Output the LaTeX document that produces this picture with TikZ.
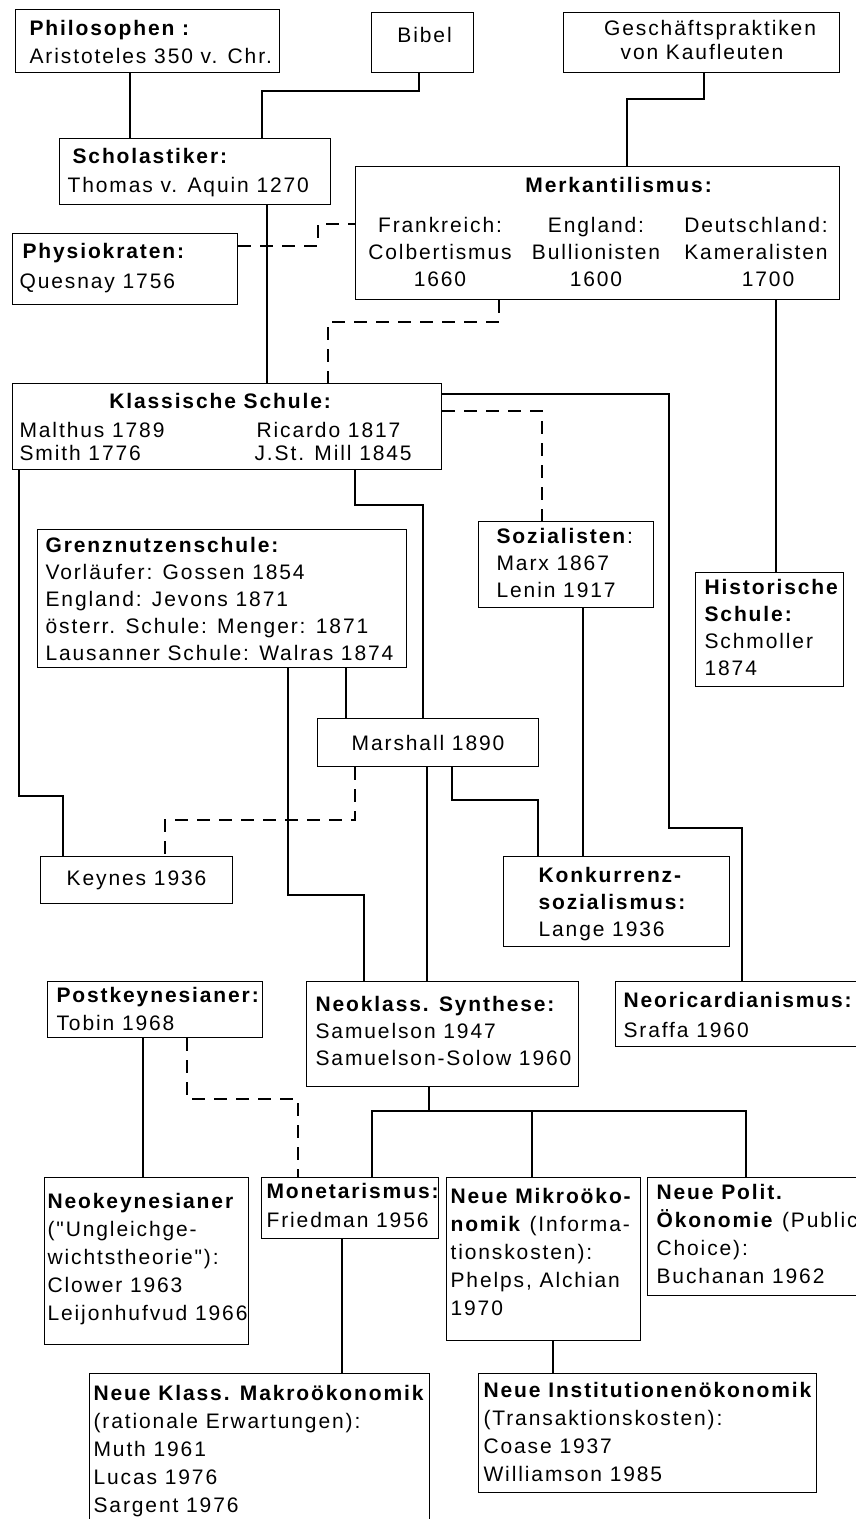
\documentclass[tikz,border=0pt]{standalone}
\usepackage{fontspec}
\setmainfont{Liberation Sans}[LetterSpace=9,Ligatures=TeXOff]
\begin{document}
\begin{tikzpicture}[x=1pt,y=-1pt,line width=1.1pt,
  kasten/.style={draw,anchor=north west,inner sep=0pt,font=\fontsize{21}{27.5}\selectfont},
  txt/.style={anchor=north west,align=left,inner sep=0pt,font=\fontsize{21}{#1}\selectfont},
  txt/.default=27.5,
  strich/.style={dash pattern=on 13pt off 9pt}]
\useasboundingbox (0,0) rectangle (856,1519);
\clip (0,0) rectangle (856,1519);
% Anfaenge
\node[kasten,minimum width=264,minimum height=63,
  label={[txt=28,xshift=14,yshift=-11]north west:{\textbf{Philosophen :}\\Aristoteles 350 v. Chr.}}] (philo) at (15,9) {};
\node[kasten,minimum width=102,minimum height=60,
  label={[txt,anchor=north,xshift=2,yshift=-15]north:{Bibel}}] (bibel) at (371,12) {};
\node[kasten,minimum width=276,minimum height=60,
  label={[txt=24,anchor=north,align=center,xshift=0.5,yshift=-8]north:{\hspace*{16pt}Geschäftspraktiken\\von Kaufleuten}}] (gesch) at (563,12) {};
\node[kasten,minimum width=271,minimum height=66,
  label={[txt=29,xshift=8,yshift=-10]north west:{\hspace*{5pt}\textbf{Scholastiker:}\\Thomas v. Aquin 1270}}] (schol) at (59,138) {};
\node[kasten,minimum width=225,minimum height=71,
  label={[txt=30,xshift=7,yshift=-10]north west:{\hspace*{3pt}\textbf{Physiokraten:}\\Quesnay 1756}}] (physio) at (12,233) {};
\node[kasten,minimum width=484,minimum height=133,
  label={[txt,anchor=north,xshift=22,yshift=-11]north:{\textbf{Merkantilismus:}}},
  label={[txt=27,anchor=north,align=center,xshift=85,yshift=-51]north west:{Frankreich:\\Colbertismus\\1660}},
  label={[txt=27,anchor=north,align=center,xshift=241,yshift=-51]north west:{England:\\Bullionisten\\1600}},
  label={[txt=27,anchor=north,align=center,xshift=401,yshift=-51]north west:{Deutschland:\\Kameralisten\\\hspace*{24pt}1700}}] (merk) at (355,166) {};
% Klassik und Nachfolger
\node[kasten,minimum width=429,minimum height=86,
  label={[txt,anchor=north,xshift=-6,yshift=-10]north:{\textbf{Klassische Schule:}}},
  label={[txt=23,xshift=7,yshift=-39]north west:{Malthus 1789\\Smith 1776}},
  label={[txt=23,xshift=242,yshift=-39]north west:{\hspace*{2pt}Ricardo 1817\\J.St. Mill 1845}}] (klass) at (12,383) {};
\node[kasten,minimum width=369,minimum height=138,
  label={[txt=27,xshift=8,yshift=-8]north west:{\textbf{Grenznutzenschule:}\\Vorläufer: Gossen 1854\\England: Jevons 1871\\österr. Schule: Menger: 1871\\Lausanner Schule: Walras 1874}}] (grenz) at (37,529) {};
\node[kasten,minimum width=175,minimum height=86,
  label={[txt=27,xshift=18,yshift=-7]north west:{\textbf{Sozialisten}:\\Marx 1867\\Lenin 1917}}] (sozial) at (478,521) {};
\node[kasten,minimum width=148,minimum height=114,
  label={[txt=27,xshift=9,yshift=-7]north west:{\textbf{Historische}\\\textbf{Schule:}\\Schmoller\\1874}}] (hist) at (695,572) {};
\node[kasten,minimum width=221,minimum height=48] (marsh) at (317,718) {Marshall 1890};
\node[kasten,minimum width=192,minimum height=47] (keynes) at (40,856) {Keynes 1936};
\node[kasten,minimum width=226,minimum height=90,
  label={[txt=27,xshift=35,yshift=-11]north west:{\textbf{Konkurrenz-}\\\textbf{sozialismus:}\\Lange 1936}}] (konk) at (503,856) {};
% 20. Jahrhundert
\node[kasten,minimum width=215,minimum height=56,
  label={[txt=28,xshift=9,yshift=-6]north west:{\textbf{Postkeynesianer:}\\Tobin 1968}}] (postk) at (47,981) {};
\node[kasten,minimum width=272,minimum height=105,
  label={[txt=27,xshift=9,yshift=-15]north west:{\textbf{Neoklass. Synthese:}\\Samuelson 1947\\Samuelson-Solow 1960}}] (neokl) at (306,981) {};
\node[kasten,minimum width=260,minimum height=65,
  label={[txt=30,xshift=8,yshift=-11]north west:{\textbf{Neoricardianismus:}\\Sraffa 1960}}] (neoric) at (615,981) {};
\node[kasten,minimum width=204,minimum height=167,
  label={[txt=28,xshift=3,yshift=-16]north west:{\textbf{Neokeynesianer}\\("Ungleichge-\\wichtstheorie"):\\Clower 1963\\Leijonhufvud 1966}}] (neok) at (44,1177) {};
\node[kasten,minimum width=177,minimum height=61,
  label={[txt=29,xshift=5,yshift=-6]north west:{\textbf{Monetarismus:}\\Friedman 1956}}] (monet) at (261,1177) {};
\node[kasten,minimum width=194,minimum height=163,
  label={[txt=28,xshift=4,yshift=-11]north west:{\textbf{Neue Mikroöko-}\\\textbf{nomik} (Informa-\\tionskosten):\\Phelps, Alchian\\1970}}] (mikro) at (446,1177) {};
\node[kasten,minimum width=228,minimum height=118,
  label={[txt=28,xshift=9,yshift=-7]north west:{\textbf{Neue Polit.}\\\textbf{Ökonomie} (Public\\Choice):\\Buchanan 1962}}] (polit) at (647,1177) {};
\node[kasten,minimum width=340,minimum height=170,
  label={[txt=28,xshift=4,yshift=-12]north west:{\textbf{Neue Klass. Makroökonomik}\\(rationale Erwartungen):\\Muth 1961\\Lucas 1976\\Sargent 1976}}] (makro) at (89,1373) {};
\node[kasten,minimum width=338,minimum height=119,
  label={[txt=28,xshift=5,yshift=-9]north west:{\textbf{Neue Institutionenökonomik}\\(Transaktionskosten):\\Coase 1937\\Williamson 1985}}] (inst) at (478,1373) {};
% Verbindungen
\draw (philo.south -| 130,0) -- (schol.north -| 130,0);
\draw (bibel.south -| 419,0) |- (262,91) -- (schol.north -| 262,0);
\draw (gesch.south -| 704,0) |- (627,99) -- (merk.north -| 627,0);
\draw (schol.south -| 267,0) -- (klass.north -| 267,0);
\draw (merk.south -| 776,0) -- (hist.north -| 776,0);
\draw (klass.east |- 0,394) -| (669,828) -| (neoric.north -| 742,0);
\draw (klass.south -| 19,0) |- (63,796) -- (keynes.north -| 63,0);
\draw (klass.south -| 355,0) |- (423,505) -- (marsh.north -| 423,0);
\draw (grenz.south -| 346,0) -- (marsh.north -| 346,0);
\draw (grenz.south -| 288,0) |- (364,895) -- (neokl.north -| 364,0);
\draw (marsh.south -| 427,0) -- (neokl.north -| 427,0);
\draw (marsh.south -| 452,0) |- (538,800) -- (konk.north -| 538,0);
\draw (sozial.south -| 583,0) -- (konk.north -| 583,0);
\draw (postk.south -| 143,0) -- (neok.north -| 143,0);
\draw (neokl.south -| 429,0) -- (429,1111);
\draw (monet.north -| 372,0) |- (746,1111) -- (polit.north -| 746,0);
\draw (mikro.north -| 532,0) -- (532,1111);
\draw (monet.south -| 342,0) -- (makro.north -| 342,0);
\draw (mikro.south -| 553,0) -- (inst.north -| 553,0);
% Einfluesse (gestrichelt)
\draw[strich] (physio.east |- 0,246) -| (318,224) -- (merk.west |- 0,224);
\draw[strich] (merk.south -| 499,0) |- (328,322) -- (klass.north -| 328,0);
\draw[strich] (klass.east |- 0,411) -| (sozial.north -| 542,0);
\draw[strich] (marsh.south -| 355,0) |- (165,820) -- (keynes.north -| 165,0);
\draw[strich] (postk.south -| 187,0) |- (298,1099) -- (monet.north -| 298,0);
\end{tikzpicture}
\end{document}
